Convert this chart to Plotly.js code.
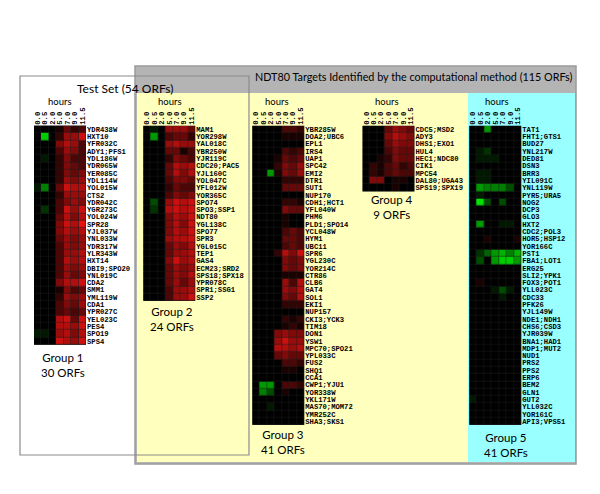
<!DOCTYPE html>
<html>
<head>
<meta charset="utf-8">
<script src="https://cdn.plot.ly/plotly-3.0.1.min.js"></script>
<style>html,body{margin:0;padding:0;background:#fff}#chart{width:600px;height:494px}</style>
</head>
<body>
<div id="chart"></div>
<script>
// time points (hours)
const times = ["0.0","0.5","2.0","5.0","7.0","9.0","11.5"];

// Group 1 (30 ORFs) - log ratio estimates in tenths (+ red, - green)
const g1Genes = ["YDR438W","HXT10","YFR032C","ADY1;PFS1","YDL186W","YDR065W","YER085C","YDL114W","YOL015W","CTS2","YDR042C","YGR273C","YOL024W","SPR28","YJL037W","YNL033W","YDR317W","YLR343W","HXT14","DBI9;SPO20","YNL019C","CDA2","SMM1","YML119W","CDA1","YPR027C","YEL023C","PES4","SPO19","SPS4"];
const g1Vals = [
[0,0,0,1,4,2,3],[0,-8,0,2,6,6,8],[0,0,0,5,7,6,3],[0,0,0,3,6,5,3],[0,-1,0,2,5,3,3],
[0,0,0,2,5,4,3],[0,0,0,2,5,4,5],[0,0,0,2,6,5,6],[-1,-5,0,4,8,7,7],[0,0,0,2,6,6,6],
[0,0,0,3,5,6,5],[0,-2,0,3,8,6,8],[0,0,0,4,7,5,7],[0,0,0,5,8,7,9],[0,0,0,5,7,6,7],
[0,0,0,4,6,5,6],[0,0,0,3,6,5,6],[0,0,0,3,6,6,7],[0,0,0,3,7,6,7],[0,0,0,3,6,5,6],
[0,0,0,3,6,4,5],[0,0,0,5,7,7,8],[0,0,0,1,5,3,4],[0,0,0,2,6,5,6],[0,0,0,3,5,4,6],
[0,0,0,3,4,3,4],[0,0,0,7,8,4,8],[0,0,0,7,7,6,8],[-1,-1,0,6,7,5,7],[0,0,0,8,7,6,8]];

// Group 2 (24 ORFs)
const g2Genes = ["MAM1","YOR298W","YAL018C","YBR250W","YJR119C","CDC20;PAC5","YJL160C","YOL047C","YFL012W","YOR365C","SPO74","SPO3;SSP1","NDT80","YGL138C","SPO77","SPR3","YGL015C","TEP1","GAS4","ECM23;SRD2","SPS18;SPX18","YPR078C","SPR1;SSG1","SSP2"];
const g2Vals = [
[0,-1,0,6,6,6,4],[0,-6,0,3,4,4,2],[0,0,0,6,7,6,6],[0,0,0,4,4,1,3],[0,0,0,2,5,4,3],
[0,0,0,4,7,6,7],[0,0,0,4,7,5,7],[0,0,0,3,5,5,4],[0,0,0,2,4,3,3],[0,0,0,3,5,4,5],
[0,-3,0,6,8,7,8],[0,-2,0,7,8,7,8],[0,0,0,5,7,6,8],[0,0,0,5,7,5,8],[0,0,0,5,7,6,8],
[0,0,0,6,7,7,8],[0,0,0,4,6,5,7],[0,0,0,4,6,6,7],[0,0,0,5,8,6,7],[0,0,0,4,6,5,6],
[0,0,0,4,6,5,7],[0,0,0,4,6,4,6],[0,0,0,3,6,6,7],[0,0,0,3,6,6,8]];

// Group 3 (41 ORFs)
const g3Genes = ["YBR285W","DOA2;UBC6","EPL1","IRS4","UAP1","SPC42","EMI2","DTR1","SUT1","NUP170","CDH1;HCT1","YFL040W","PHM6","PLD1;SPO14","YCL048W","HYM1","UBC11","SPR6","YGL230C","YOR214C","CTR86","CLB6","GAT4","SOL1","EKI1","NUP157","CKI3;YCK3","TIM18","DON1","YSW1","MPC70;SPO21","YPL033C","FUS2","SHQ1","CCA1","CWP1;YJU1","YOR338W","YKL171W","MAS70;MOM72","YMR252C","SHA3;SKS1"];
const g3Vals = [
[0,0,0,0,3,3,2],[0,0,0,0,1,1,1],[0,0,0,0,0,0,0],[0,0,0,0,3,2,3],[0,0,0,1,4,3,4],
[0,0,0,2,5,4,6],[0,0,-6,1,5,4,6],[0,0,0,0,2,2,2],[0,0,0,0,4,4,4],[0,0,0,0,0,0,0],
[0,0,0,0,2,2,1],[0,0,0,0,5,4,4],[0,0,0,0,1,0,0],[0,0,0,0,1,0,0],[0,0,0,0,3,4,3],
[0,0,0,0,4,4,3],[0,0,0,0,3,4,3],[0,0,0,2,7,5,8],[0,0,0,0,5,4,5],[0,0,0,0,5,4,5],
[0,0,0,0,1,1,1],[0,0,0,0,6,3,7],[0,0,0,0,6,5,7],[0,0,0,0,5,4,7],[0,0,0,0,2,2,2],
[0,0,0,0,0,0,0],[0,0,0,0,2,1,2],[0,0,0,0,1,2,1],[0,0,0,5,6,5,5],[0,0,0,6,8,6,6],
[0,0,0,7,7,6,7],[0,0,0,4,5,4,4],[0,0,0,0,3,3,2],[0,0,0,0,1,1,0],[0,0,0,0,0,0,0],
[0,-6,-6,0,3,3,2],[0,-5,-3,0,1,0,0],[0,0,0,0,0,0,0],[0,0,-1,0,0,0,0],[0,0,0,0,0,0,0],
[0,0,0,0,0,0,0]];

// Group 4 (9 ORFs)
const g4Genes = ["CDC5;MSD2","ADY3","DHS1;EXO1","HUL4","HEC1;NDC80","CIK1","MPC54","DAL80;UGA43","SPS19;SPX19"];
const g4Vals = [
[0,0,0,4,6,5,4],[0,0,0,5,7,6,5],[0,0,0,4,6,5,5],[0,0,0,3,5,4,4],[0,0,1,2,5,4,4],
[0,2,1,3,4,2,3],[0,2,1,3,4,3,3],[0,5,5,0,1,1,0],[0,0,0,0,1,0,0]];

// Group 5 (41 ORFs)
const g5Genes = ["TAT1","FHT1;GTS1","BUD27","YNL217W","DED81","DSN3","BRR3","YIL091C","YNL119W","PYR5;URA5","NOG2","DCP3","GLO3","HXT2","CDC2;POL3","HOR5;HSP12","YOR166C","PST1","FBA1;LOT1","ERG25","SLI2;YPK1","FOX3;POT1","YLL023C","CDC33","PFK26","YJL149W","NDE1;NDH1","CHS6;CSD3","YJR039W","BNA1;HAD1","MDP1;MUT2","NUD1","PRS2","PPS2","ERP6","BEM2","GLN1","GUT2","YLL032C","YOR161C","API3;VPS51"];
const g5Vals = [
[0,0,-6,0,0,0,0],[0,0,0,0,0,0,0],[0,0,0,0,0,0,0],[0,-1,-2,0,0,0,0],[0,-1,-1,-1,0,0,0],
[0,0,0,0,0,0,0],[0,-1,-1,0,0,0,0],[0,-1,-1,0,0,0,0],[0,-6,-5,-5,-5,-3,0],[0,-1,0,0,0,0,0],
[0,-9,-3,0,-3,0,0],[0,0,0,0,0,0,0],[0,0,0,0,0,0,0],[0,-6,0,0,-1,-1,0],[0,0,0,0,0,0,0],
[0,0,1,0,0,0,1],[0,0,0,0,0,0,0],[0,-2,-4,-6,-7,-5,-7],[0,-3,0,-6,-8,-8,-6],[0,0,0,0,0,0,0],
[0,0,0,0,0,0,0],[0,1,0,0,0,0,0],[0,0,0,-1,-3,-1,0],[0,0,0,0,-1,0,0],[0,0,0,0,0,0,0],
[0,0,0,0,0,0,0],[0,0,0,0,0,0,0],[0,0,0,0,0,0,0],[0,0,0,0,0,0,0],[0,0,0,0,0,0,0],
[0,0,0,0,0,0,0],[0,0,0,0,0,0,0],[0,0,0,0,0,0,0],[0,0,0,0,0,0,0],[0,0,0,0,0,0,0],
[0,0,0,0,0,0,0],[0,0,0,0,0,0,0],[-1,0,0,0,0,0,0],[0,0,0,0,0,0,0],[0,0,0,0,0,0,0],
[0,0,0,0,0,0,0]];

const groupTitles = ["Group 1<br>30 ORFs","Group 2<br>24 ORFs","Group 3<br>41 ORFs","Group 4<br>9 ORFs","Group 5<br>41 ORFs"];

const W = 600, H = 494;
const px = x => x / W;
const py = y => 1 - y / H;

const groups = [
  {genes:g1Genes, vals:g1Vals, x0:34,    top:125.7},
  {genes:g2Genes, vals:g2Vals, x0:143.3, top:125.7},
  {genes:g3Genes, vals:g3Vals, x0:252.3, top:125.7},
  {genes:g4Genes, vals:g4Vals, x0:362.5, top:125.7},
  {genes:g5Genes, vals:g5Vals, x0:469.3, top:125.7}
];
const rowH = 7.3, colW = 7.43;
const labelPos = [[62.5,365],[172,318.5],[283,441.5],[391.5,206.5],[505.5,445]];
const hoursPos = [60,170,277,387,497];

const colorscale = [[0,'rgb(0,255,0)'],[0.5,'rgb(0,0,0)'],[1,'rgb(255,20,20)']];
const monoFont = {family:'"Liberation Mono", "Courier New", monospace', size:7.2, color:'#000', weight:'bold'};

const traces = [];
const layout = {
  width: W, height: H,
  margin: {l:0, r:0, t:0, b:0},
  paper_bgcolor: '#ffffff',
  plot_bgcolor: '#1c1c1c',
  showlegend: false,
  shapes: [
    {type:'rect', xref:'paper', yref:'paper', x0:px(135), x1:px(576), y0:py(464), y1:py(66), fillcolor:'#b4b4b4', line:{color:'#9a9a9a', width:1.5}, layer:'below'},
    {type:'rect', xref:'paper', yref:'paper', x0:px(137), x1:px(468), y0:py(462), y1:py(93), fillcolor:'#ffffbe', line:{width:0}, layer:'below'},
    {type:'rect', xref:'paper', yref:'paper', x0:px(468), x1:px(575), y0:py(462), y1:py(93), fillcolor:'#99ffff', line:{width:0}, layer:'below'},
    {type:'rect', xref:'paper', yref:'paper', x0:px(20), x1:px(249), y0:py(455), y1:py(76), fillcolor:'rgba(0,0,0,0)', line:{color:'#8c8c8c', width:1.2}, layer:'below'}
  ],
  annotations: [
    {text:'Test Set (54 ORFs)', xref:'paper', yref:'paper', x:px(124.5), y:py(88), xanchor:'center', yanchor:'middle', showarrow:false, font:{family:'Lato, "Open Sans", sans-serif', size:12, color:'#000'}},
    {text:'NDT80 Targets Identified by the computational method (115 ORFs)', xref:'paper', yref:'paper', x:px(414), y:py(76), xanchor:'center', yanchor:'middle', showarrow:false, font:{family:'Lato, "Open Sans", sans-serif', size:10.8, color:'#000'}}
  ]
};

groups.forEach((g, i) => {
  const n = i + 1;
  const xa = n === 1 ? 'x' : 'x' + n;
  const ya = n === 1 ? 'y' : 'y' + n;
  const xKey = n === 1 ? 'xaxis' : 'xaxis' + n;
  const yKey = n === 1 ? 'yaxis' : 'yaxis' + n;
  traces.push({
    type:'heatmap', x:times, y:g.genes,
    z:g.vals.map(r => r.map(v => v / 10)),
    zmin:-1, zmax:1, colorscale:colorscale, showscale:false,
    xgap:0.5, ygap:0.5, hoverinfo:'skip',
    xaxis:xa, yaxis:ya
  });
  // dark backing under the heatmap so the thin cell gaps read as dark grid lines
  layout.shapes.push({type:'rect', xref:xa + ' domain', yref:ya + ' domain', x0:0, x1:1, y0:0, y1:1,
    fillcolor:'#1c1c1c', line:{width:0}, layer:'below'});
  const x1 = g.x0 + colW * 7;
  const y1 = g.top + rowH * g.genes.length;
  layout[xKey] = {domain:[px(g.x0), px(x1)], anchor:ya, side:'top', type:'category', tickangle:-90,
    tickmode:'array', tickvals:times, ticktext:times,
    tickfont:monoFont, ticks:'', showgrid:false, zeroline:false, showline:false, fixedrange:true};
  layout[yKey] = {domain:[py(y1), py(g.top)], anchor:xa, side:'right', type:'category', autorange:'reversed',
    tickmode:'array', tickvals:g.genes, ticktext:g.genes,
    tickfont:monoFont, ticks:'', showgrid:false, zeroline:false, showline:false, fixedrange:true};
  layout.annotations.push({text:'hours', xref:'paper', yref:'paper', x:px(hoursPos[i]), y:py(101), xanchor:'center', yanchor:'middle', showarrow:false,
    font:{family:'Lato, "Open Sans", sans-serif', size:9.5, color:'#000'}});
  layout.annotations.push({text:groupTitles[i], xref:'paper', yref:'paper', x:px(labelPos[i][0]), y:py(labelPos[i][1]), xanchor:'center', yanchor:'middle', showarrow:false,
    align:'center', font:{family:'Lato, "Open Sans", sans-serif', size:11.5, color:'#000'}});
});

Plotly.newPlot('chart', traces, layout, {staticPlot:true, displayModeBar:false});
</script>
</body>
</html>
